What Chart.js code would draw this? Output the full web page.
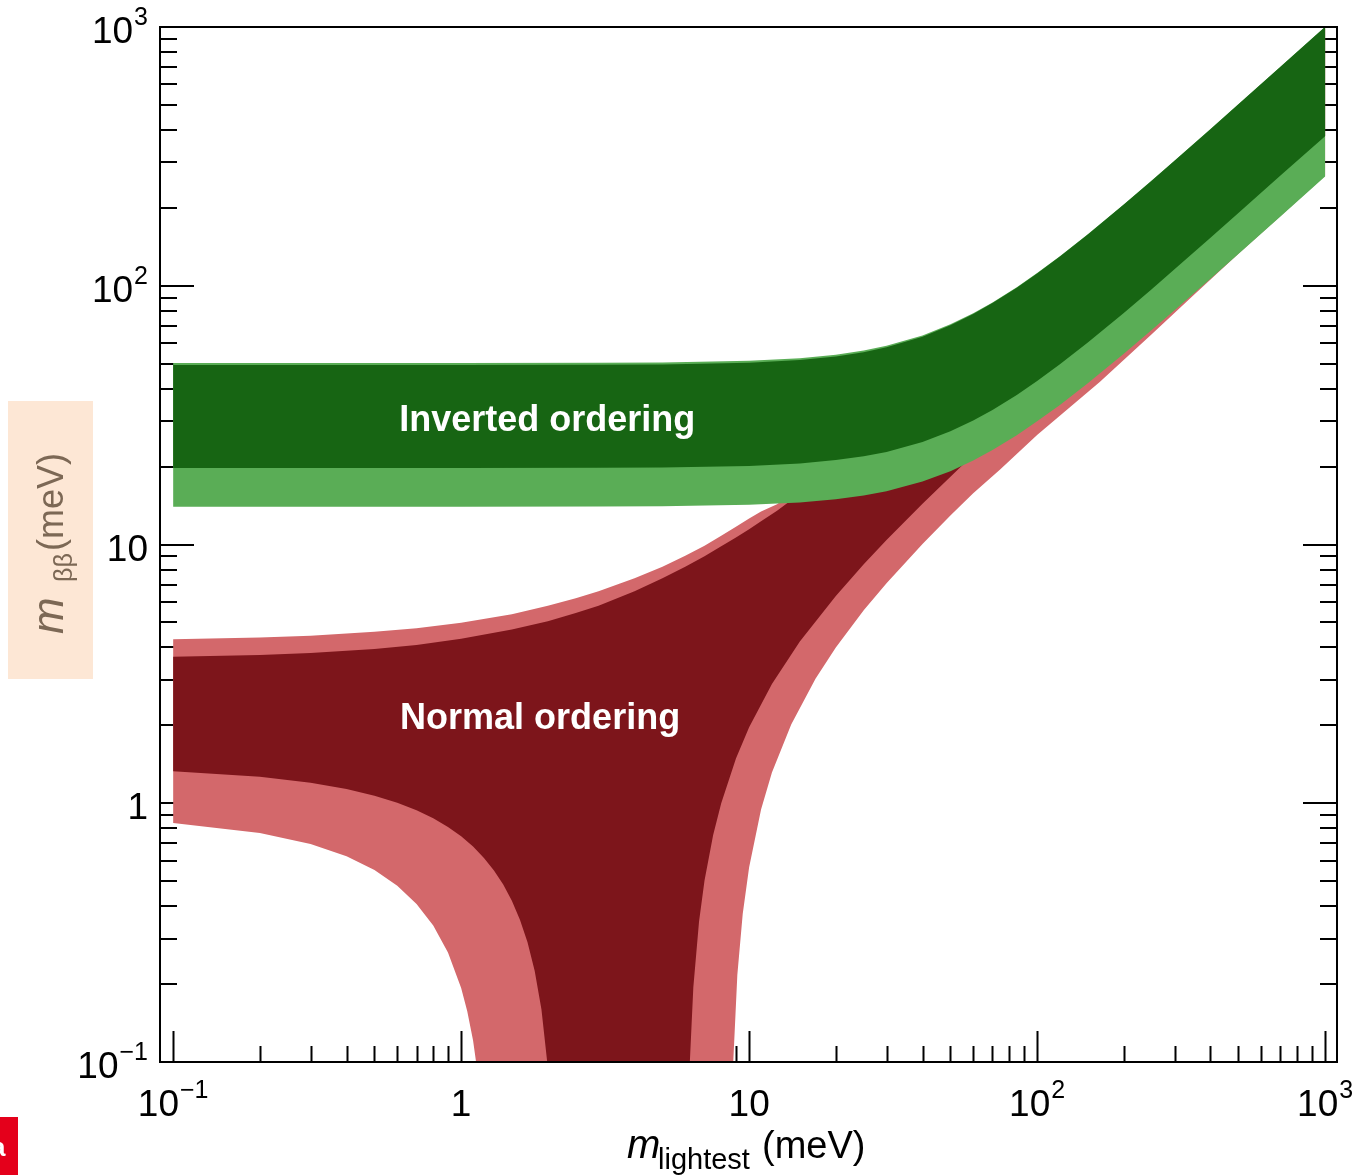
<!DOCTYPE html>
<html>
<head>
<meta charset="utf-8">
<title>m_bb vs m_lightest</title>
<script src="https://cdn.jsdelivr.net/npm/chart.js@4.4.0/dist/chart.umd.min.js"></script>
<style>
  html, body { margin: 0; padding: 0; background: #ffffff; }
  #wrap { position: relative; width: 1360px; height: 1175px; }
</style>
</head>
<body>
<div id="wrap"><canvas id="mbb" width="1360" height="1175"></canvas></div>
<script>
// axis ranges (meV)
const massRange = [0.09, 1100];
const mbbRange = [0.1, 1000];

// inverted ordering, lightest mass grid and band edges
const ioMass   = [0.1, 1, 3, 5, 10, 15, 20, 25, 30, 40, 50, 60, 70, 85, 100, 120, 150, 200, 250, 300, 400, 500, 700, 1000];
const ioUpper3 = [50.3, 50.31, 50.39, 50.55, 51.28, 52.49, 54.13, 56.17, 58.57, 64.27, 70.92, 78.29, 86.2, 98.77, 111.94, 130.1, 158.2, 206.2, 255.0, 304.2, 403.2, 502.5, 701.8, 1001.3];
const ioUpper1 = [49.4, 49.41, 49.49, 49.65, 50.4, 51.63, 53.3, 55.37, 57.8, 63.56, 70.29, 77.72, 85.68, 98.31, 111.5, 129.8, 157.9, 206.0, 254.8, 304.0, 403.0, 502.4, 701.7, 1001.0];
const ioLower1 = [19.75, 19.75, 19.78, 19.86, 20.1, 20.55, 21.2, 21.91, 22.8, 24.92, 27.4, 30.16, 33.1, 37.86, 42.8, 49.69, 60.3, 78.5, 97.03, 115.7, 153.3, 191.0, 266.7, 378.0];
const ioLower3 = [13.99, 14.0, 14.02, 14.06, 14.23, 14.54, 14.96, 15.47, 16.06, 17.53, 19.19, 21.13, 23.17, 26.44, 29.92, 34.63, 42.0, 54.6, 67.47, 80.4, 106.5, 132.7, 185.3, 264.4];

// normal ordering, upper edges
const noUpperMass = [0.1, 0.2, 0.3, 0.5, 0.7, 1, 1.5, 2, 2.5, 3, 4, 5, 6, 7, 8, 9, 10, 11, 12.5, 15, 20, 30, 50, 100, 200, 500, 1000];
const noUpper3    = [4.30, 4.37, 4.44, 4.60, 4.75, 4.98, 5.37, 5.8, 6.2, 6.6, 7.4, 8.2, 9.05, 9.9, 10.8, 11.7, 12.6, 13.4, 14.3, 16.5, 21.5, 31.5, 51.2, 100.5, 200, 497, 992];
const noUpper1    = [3.68, 3.74, 3.81, 3.95, 4.09, 4.32, 4.69, 5.05, 5.43, 5.8, 6.6, 7.4, 8.2, 9.0, 9.85, 10.65, 11.45, 12.3, 13.5, 15.7, 20.6, 30.5, 50.3, 100, 199, 495, 985];

// normal ordering, lower edge left of the cancellation funnel
const noLeftMass1 = [0.1, 0.2, 0.3, 0.4, 0.5, 0.6, 0.7, 0.8, 0.9, 1, 1.1, 1.2, 1.3, 1.4, 1.5, 1.6, 1.7, 1.8, 1.9, 2.0, 2.05, 2.1, 2.13];
const noLeft1     = [1.33, 1.265, 1.2, 1.135, 1.07, 1.005, 0.94, 0.875, 0.81, 0.745, 0.68, 0.615, 0.55, 0.485, 0.42, 0.355, 0.29, 0.225, 0.16, 0.095, 0.063, 0.03, 0.01];
const noLeftMass3 = [0.1, 0.2, 0.3, 0.4, 0.5, 0.6, 0.7, 0.8, 0.9, 1.0, 1.05, 1.1, 1.15, 1.2, 1.25, 1.26];
const noLeft3     = [0.839, 0.767, 0.696, 0.624, 0.552, 0.48, 0.408, 0.337, 0.265, 0.193, 0.157, 0.121, 0.085, 0.05, 0.0135, 0.006];

// normal ordering, lower edge right of the funnel
const noRightMass1 = [6.08, 6.2, 6.4, 6.7, 7, 7.5, 8, 9, 10, 12, 15, 20, 25, 30, 40, 54, 70, 100, 200, 500, 1000];
const noRight1     = [0.028, 0.091, 0.194, 0.349, 0.503, 0.754, 1.0, 1.49, 1.965, 2.89, 4.22, 6.33, 8.38, 10.4, 14.36, 19.82, 26.0, 37.4, 75.4, 189, 378];
const noRightMass3 = [8.66, 8.8, 9.1, 9.5, 10, 11, 12, 14, 17, 20, 25, 30, 40, 50, 60, 74.4, 100, 165, 250, 350, 500, 700, 1000];
const noRight3     = [0.043, 0.098, 0.217, 0.373, 0.566, 0.945, 1.314, 2.015, 3.03, 4.0, 5.57, 7.08, 10.05, 12.94, 15.79, 19.5, 26.5, 42.5, 65, 92, 133, 186, 266];

// decade ticks and their labels [mantissa, exponent]
const decades = [0.1, 1, 10, 100, 1000];
const decadeLabels = [['10', '\u22121'], ['1', ''], ['10', ''], ['10', '2'], ['10', '3']];

const orderingLabels = [
  { text: 'Inverted ordering', m: 1.99, mbb: 30.0 },
  { text: 'Normal ordering', m: 1.88, mbb: 2.12 }
];

const colors = {
  io1: '#176513', io3: '#5aad56',
  no1: '#7d151b', no3: '#d3686b'
};

function edge(xs, ys) {
  return xs.map((x, i) => ({ x: x, y: ys[i] }));
}

// closed outline: upper edge left to right, then each lower piece walked back
function outline(upper, lowers) {
  let pts = upper.slice();
  lowers.forEach(l => { pts = pts.concat(l.slice().reverse()); });
  return pts;
}

const ioBand3 = outline(edge(ioMass, ioUpper3), [edge(ioMass, ioLower3)]);
const ioBand1 = outline(edge(ioMass, ioUpper1), [edge(ioMass, ioLower1)]);
const noBand3 = outline(edge(noUpperMass, noUpper3),
  [edge(noRightMass3, noRight3), edge(noLeftMass3, noLeft3)]);
const noBand1 = outline(edge(noUpperMass, noUpper1),
  [edge(noRightMass1, noRight1), edge(noLeftMass1, noLeft1)]);

function bandSet(label, data, color) {
  return {
    label: label, data: data,
    backgroundColor: color, borderColor: color,
    borderWidth: 0, pointRadius: 0, tension: 0,
    fill: 'shape'
  };
}

const FONT = '"Liberation Sans", Arial, Helvetica, sans-serif';

function drawPow(ctx, base, exp, x, y, align) {
  ctx.font = '37px ' + FONT;
  const wb = ctx.measureText(base).width;
  ctx.font = '25px ' + FONT;
  const we = exp ? ctx.measureText(exp).width + 1 : 0;
  const x0 = align === 'right' ? x - wb - we : x - (wb + we) / 2;
  ctx.textAlign = 'left';
  ctx.textBaseline = 'alphabetic';
  ctx.font = '37px ' + FONT;
  ctx.fillText(base, x0, y);
  if (exp) {
    ctx.font = '25px ' + FONT;
    ctx.fillText(exp, x0 + wb + 1, y - 18);
  }
}

function logTicks(min, max) {
  const out = [];
  for (let k = -2; k <= 3; k++) {
    for (let j = 1; j <= 9; j++) {
      const v = j * Math.pow(10, k);
      if (v > min * 1.001 && v < max * 0.999) out.push({ v: v, major: j === 1 });
    }
  }
  return out;
}

// tick marks sit under the bands
const tickMarks = {
  id: 'tickMarks',
  beforeDatasetsDraw(chart) {
    const { ctx, chartArea: a, scales: { x, y } } = chart;
    ctx.save();
    ctx.strokeStyle = '#000';
    ctx.lineWidth = 2;
    ctx.beginPath();
    logTicks(massRange[0], massRange[1]).forEach(t => {
      const px = Math.round(x.getPixelForValue(t.v)) + 0.5;
      const len = t.major ? 31 : 16;
      ctx.moveTo(px, a.bottom);
      ctx.lineTo(px, a.bottom - len);
    });
    logTicks(mbbRange[0], mbbRange[1] * 1.01).forEach(t => {
      const py = Math.round(y.getPixelForValue(t.v));
      const len = t.major ? 34 : 17;
      ctx.moveTo(a.left, py);
      ctx.lineTo(a.left + len, py);
      ctx.moveTo(a.right, py);
      ctx.lineTo(a.right - len, py);
    });
    ctx.stroke();
    ctx.restore();
  }
};

const decorations = {
  id: 'decorations',
  afterDraw(chart) {
    const { ctx, chartArea: a, scales: { x, y } } = chart;
    ctx.save();

    // frame
    ctx.strokeStyle = '#000';
    ctx.lineWidth = 2;
    ctx.strokeRect(a.left, a.top, a.right - a.left, a.bottom - a.top);

    // tick labels
    ctx.fillStyle = '#000';
    decades.forEach((v, i) => {
      const [b, e] = decadeLabels[i];
      drawPow(ctx, b, e, x.getPixelForValue(v), a.bottom + 54, 'center');
      drawPow(ctx, b, e, 148, y.getPixelForValue(v) + 16, 'right');
    });

    // x title: m_lightest (meV)
    ctx.textAlign = 'left';
    ctx.textBaseline = 'alphabetic';
    ctx.font = 'italic 40px ' + FONT;
    ctx.fillText('m', 627, 1158);
    ctx.font = '29px ' + FONT;
    ctx.fillText('lightest', 658, 1169);
    ctx.font = '38px ' + FONT;
    ctx.fillText('(meV)', 762, 1158);

    // y title on its tinted box
    ctx.fillStyle = '#fde7d5';
    ctx.fillRect(8, 401, 85, 278);
    ctx.save();
    ctx.translate(63, 0);
    ctx.rotate(-Math.PI / 2);
    ctx.fillStyle = '#7c6855';
    ctx.font = 'italic 44px ' + FONT;
    ctx.fillText('m', -634, 0);
    ctx.font = '25px ' + FONT;
    ctx.fillText('\u03b2\u03b2', -582, 9);
    ctx.font = '36px ' + FONT;
    ctx.fillText('(meV)', -551, 0);
    ctx.restore();

    // ordering labels
    ctx.fillStyle = '#ffffff';
    ctx.font = 'bold 36px ' + FONT;
    ctx.textAlign = 'center';
    ctx.textBaseline = 'middle';
    orderingLabels.forEach(l => {
      ctx.fillText(l.text, x.getPixelForValue(l.m), y.getPixelForValue(l.mbb));
    });

    // corner badge
    ctx.fillStyle = '#e4001b';
    ctx.fillRect(0, 1117, 18, 58);
    ctx.fillStyle = '#ffffff';
    ctx.font = 'bold 26px ' + FONT;
    ctx.textAlign = 'left';
    ctx.textBaseline = 'alphabetic';
    ctx.fillText('a', -9, 1156);

    ctx.restore();
  }
};

new Chart(document.getElementById('mbb'), {
  type: 'line',
  data: {
    datasets: [
      bandSet('Inverted ordering 1\u03c3', ioBand1, colors.io1),
      bandSet('Inverted ordering 3\u03c3', ioBand3, colors.io3),
      bandSet('Normal ordering 1\u03c3', noBand1, colors.no1),
      bandSet('Normal ordering 3\u03c3', noBand3, colors.no3)
    ]
  },
  options: {
    responsive: false,
    animation: false,
    devicePixelRatio: 1,
    layout: { padding: { left: 160, right: 23, top: 27, bottom: 113 } },
    scales: {
      x: { type: 'logarithmic', min: massRange[0], max: massRange[1], display: false },
      y: { type: 'logarithmic', min: mbbRange[0], max: mbbRange[1], display: false }
    },
    plugins: {
      legend: { display: false },
      tooltip: { enabled: false }
    }
  },
  plugins: [tickMarks, decorations]
});
</script>
</body>
</html>
